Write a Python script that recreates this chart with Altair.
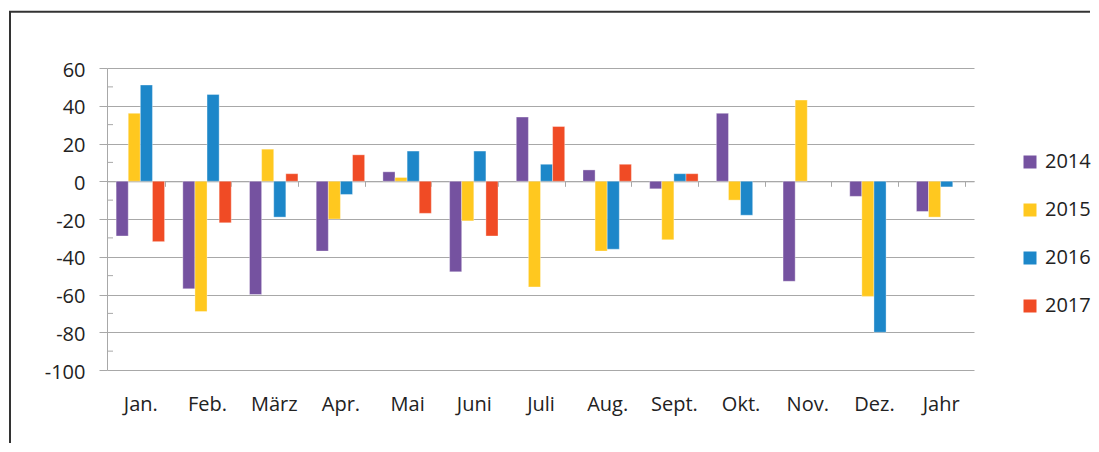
import altair as alt
import pandas as pd

months = ["Jan.", "Feb.", "März", "Apr.", "Mai", "Juni", "Juli", "Aug.", "Sept.", "Okt.", "Nov.", "Dez.", "Jahr"]
years = ["2014", "2015", "2016", "2017"]
v2014 = [-29, -57, -60, -37, 5, -48, 34, 6, -4, 36, -53, -8, -16]
v2015 = [36, -69, 17, -20, 2, -21, -56, -37, -31, -10, 43, -61, -19]
v2016 = [51, 46, -19, -7, 16, 16, 9, -36, 4, -18, None, -80, -3]
v2017 = [-32, -22, 4, 14, -17, -29, 29, 9, 4, None, None, None, None]
colors = ["#7552A0", "#FFC81F", "#1D87C9", "#F04B25"]
y_ticks = [-100, -80, -60, -40, -20, 0, 20, 40, 60]
y_minor = [50, 30, 10, -10, -30, -50, -70, -90]

rows = []
for yr, vals in zip(years, [v2014, v2015, v2016, v2017]):
    for m, v in zip(months, vals):
        if v is not None:
            rows.append({"Monat": m, "Serie": yr, "Wert": v})
df = pd.DataFrame(rows)

FONT = "Open Sans"
GRID = "#a8a8a8"
TEXT = "#222222"
W, H = 867, 302

yscale = alt.Scale(domain=[-100, 60], nice=False, zero=False)
yaxis = alt.Axis(title=None, values=y_ticks, tickSize=8, tickColor=GRID,
                 domainColor=GRID, gridColor=GRID, grid=True, labelPadding=14,
                 labelOverlap=False, labelExpr="'' + datum.value",
                 labelFont=FONT, labelFontSize=20, labelColor=TEXT, labelOffset=2)

bars = alt.Chart(df).mark_bar(stroke="white", strokeOpacity=0.35, strokeWidth=1).encode(
    x=alt.X("Monat:N", sort=months,
            scale=alt.Scale(domain=months, paddingInner=0.274, paddingOuter=0.137),
            axis=alt.Axis(title=None, orient="bottom", offset=-188.7, labelAngle=0,
                          domainColor=GRID, domainWidth=1, tickColor=GRID, tickSize=5,
                          tickBand="extent", labelPadding=208, labelFont=FONT,
                          labelFontSize=20, labelColor=TEXT, grid=False)),
    xOffset=alt.XOffset("Serie:N", scale=alt.Scale(domain=years, paddingInner=0, paddingOuter=0)),
    y=alt.Y("Wert:Q", scale=yscale, axis=yaxis),
    color=alt.Color("Serie:N", scale=alt.Scale(domain=years, range=colors),
                    legend=alt.Legend(title=None, orient="none", legendX=913, legendY=84,
                                      direction="vertical", symbolType="square",
                                      symbolSize=169, symbolStrokeWidth=0, padding=0,
                                      rowPadding=28, labelOffset=5, labelFont=FONT,
                                      labelFontSize=20, labelColor=TEXT)),
)

minor = alt.Chart(pd.DataFrame({"Wert": y_minor})).mark_rule(color=GRID, strokeWidth=1).encode(
    y=alt.Y("Wert:Q", scale=yscale, axis=yaxis),
    x=alt.value(0), x2=alt.value(6),
)

one = pd.DataFrame({"k": [0]})
X0, Y0 = -97, -56.3
frame_top = alt.Chart(one).mark_rule(color="#333333", strokeWidth=2).encode(
    x=alt.value(X0 - 1), x2=alt.value(983), y=alt.value(Y0)
)
frame_left = alt.Chart(one).mark_rule(color="#333333", strokeWidth=2).encode(
    x=alt.value(X0), y=alt.value(Y0), y2=alt.value(375)
)

chart = alt.layer(frame_top, frame_left, bars, minor).properties(
    width=W, height=H,
    padding={"left": 0, "top": 2, "right": 0, "bottom": 0},
).configure_view(stroke=None).configure_axis(labelOverlap=False)

chart.save("out.html", embed_options={"renderer": "svg", "actions": False})
